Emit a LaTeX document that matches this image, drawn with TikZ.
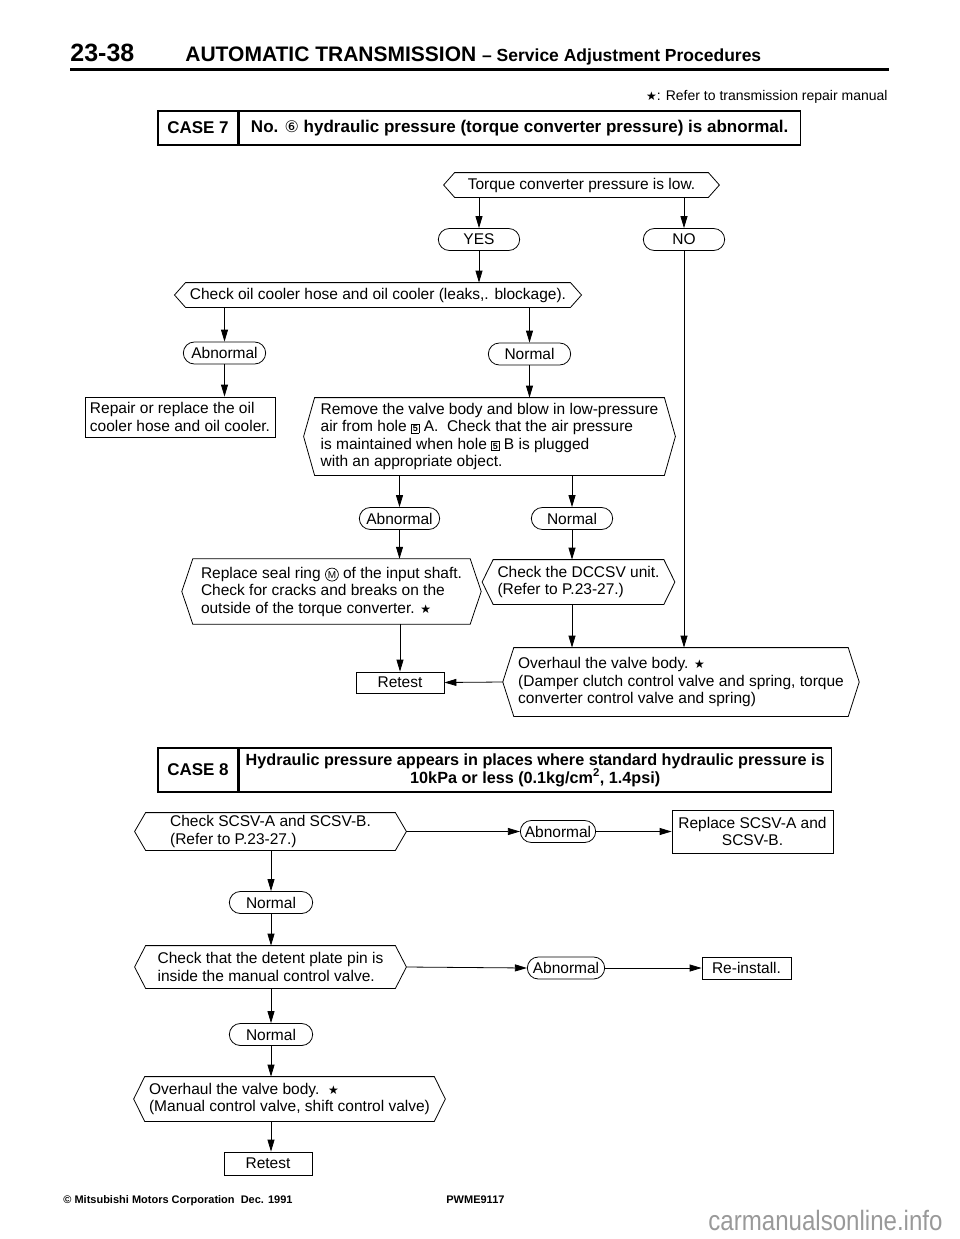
\documentclass[tikz,border=0pt]{standalone}
\usepackage{fontspec}
\setmainfont{Liberation Sans}
\newfontfamily\condfont[FakeStretch=0.86]{Liberation Sans}
\newfontfamily\symfont{DejaVu Sans}
\usetikzlibrary{shapes.misc,arrows.meta,calc}
\newcommand{\hexframe}[2][11]{\draw (#2.north west) -- (#2.north east) -- ([xshift=#1pt]#2.east) -- (#2.south east) -- (#2.south west) -- ([xshift=-#1pt]#2.west) -- cycle;}
\newcommand{\holebox}[1]{{\setlength{\fboxsep}{1pt}\setlength{\fboxrule}{0.7pt}\fbox{\fontsize{9}{9}\selectfont\bfseries #1}}}
\newcommand{\starmark}{{\symfont\fontsize{12}{12}\selectfont ★}}
\newcommand{\ringletter}[1]{\tikz[baseline=(rl.base)] \node[draw, circle, minimum size=13pt, inner sep=0pt, line width=0.7pt, font=\fontsize{10}{10}\selectfont] (rl) {#1};}

\begin{document}
\begin{tikzpicture}[x=1pt,y=-1pt,line width=0.8pt]
		\tikzset{
			every node/.style = {font=\fontsize{15.5}{17.5}\selectfont},
			hexnode/.style = {inner xsep=4pt, inner ysep=2pt, align=left},
			termnode/.style = {draw, rounded rectangle, minimum height=22pt, inner ysep=0pt},
			stepbox/.style = {draw, inner xsep=5pt, inner ysep=2pt, align=left},
			casecell/.style = {draw, line width=1.2pt, inner sep=2pt, font=\bfseries\fontsize{17}{18.5}\selectfont},
			flow/.style = {-{Triangle[length=12pt,width=7pt]}}
		}
		\useasboundingbox (0,0) rectangle (960,1239);
		\node[anchor=base west, inner sep=0pt, font=\bfseries\fontsize{25}{25}\selectfont] (pgnum) at (70,62) {23-38};
		\node[anchor=base west, inner sep=0pt, font=\bfseries\fontsize{21}{21}\selectfont] (title) at (185,62) {AUTOMATIC TRANSMISSION {\fontsize{17.5}{17.5}\selectfont – Service Adjustment Procedures}};
		\draw[line width=3.5pt] (70,69.5) -- (889,69.5);
		\node[anchor=base east, inner sep=0pt, font=\fontsize{14}{14}\selectfont] (refnote) at (888,100) {{\symfont\fontsize{12}{12}\selectfont ★}: Refer to transmission repair manual};

		\node[casecell, minimum width=80pt, minimum height=34pt] (case7) at (198,128) {CASE 7};
		\node[casecell, minimum width=561pt, minimum height=34pt, anchor=west] (case7txt) at (case7.east) {No. {\symfont\mdseries\fontsize{16}{16}\selectfont ⑥} hydraulic pressure (torque converter pressure) is abnormal.};

		\node[hexnode, minimum width=253pt, minimum height=24pt] (tq) at (581.5,185) {Torque converter pressure is low.};
		\hexframe{tq}
		\node[termnode, minimum width=88pt] (yes) at (479,239.5) {YES};
		\node[termnode, minimum width=88pt] (no) at (684,239.5) {NO};
		\node[hexnode, minimum width=382pt, minimum height=24pt] (oil) at (378,295) {Check oil cooler hose and oil cooler (leaks,. blockage).};
		\hexframe{oil}
		\node[termnode, minimum width=89pt] (ab1) at (224.5,353) {Abnormal};
		\node[termnode, minimum width=89pt] (nm1) at (529.5,354) {Normal};
		\node[stepbox, minimum width=190pt, minimum height=40pt] (rep) at (180,417) {Repair or replace the oil\\cooler hose and oil cooler.};
		\node[hexnode, minimum width=349pt, minimum height=77pt] (rem) at (489.5,436.5) {Remove the valve body and blow in low-pressure\\air from hole \holebox{5} A.\ \ Check that the air pressure\\is maintained when hole \holebox{5} B is plugged\\with an appropriate object.};
		\hexframe{rem}
		\node[termnode, minimum width=87pt] (ab2) at (399.5,518.5) {Abnormal};
		\node[termnode, minimum width=88pt] (nm2) at (572,518.5) {Normal};
		\node[hexnode, minimum width=277pt, minimum height=65pt] (seal) at (331.5,591.5) {Replace seal ring \ringletter{M} of the input shaft.\\Check for cracks and breaks on the\\outside of the torque converter. \starmark};
		\hexframe{seal}
		\node[hexnode, minimum width=169pt, minimum height=44pt] (dccsv) at (578.5,582) {Check the DCCSV unit.\\(Refer to P.23-27.)};
		\hexframe{dccsv}
		\node[stepbox, minimum width=88pt, minimum height=21pt, inner ysep=0pt] (retest) at (400,682.5) {Retest};
		\node[hexnode, minimum width=330pt, minimum height=68pt] (ovh) at (681,682) {Overhaul the valve body. \starmark\\(Damper clutch control valve and spring, torque\\converter control valve and spring)};
		\hexframe{ovh}

		\draw[flow] (tq.south -| yes) -- (yes.north);
		\draw[flow] (tq.south -| no) -- (no.north);
		\draw[flow] (yes.south) -- (yes |- oil.north);
		\draw[flow] (oil.south -| ab1) -- (ab1.north);
		\draw[flow] (oil.south -| nm1) -- (nm1.north);
		\draw[flow] (ab1.south) -- (ab1 |- rep.north);
		\draw[flow] (nm1.south) -- (nm1 |- rem.north);
		\draw[flow] (rem.south -| ab2) -- (ab2.north);
		\draw[flow] (rem.south -| nm2) -- (nm2.north);
		\draw[flow] (ab2.south) -- (ab2 |- seal.north);
		\draw[flow] (nm2.south) -- (nm2 |- dccsv.north);
		\draw[flow] (seal.south -| retest) -- (retest.north);
		\draw[flow] (dccsv.south -| nm2) -- (nm2 |- ovh.north);
		\draw[flow] (no.south) -- (no |- ovh.north);
		\draw[flow] ([xshift=-11pt]ovh.west) -- (retest.east);

		\node[casecell, minimum width=80pt, minimum height=44pt] (case8) at (198,770) {CASE 8};
		\node[casecell, minimum width=592pt, minimum height=44pt, anchor=west, align=center, font=\bfseries\fontsize{16.2}{18}\selectfont] (case8txt) at (case8.east) {Hydraulic pressure appears in places where standard hydraulic pressure is\\10kPa or less (0.1kg/cm\textsuperscript{2}, 1.4psi)};

		\node[hexnode, minimum width=249pt, minimum height=37pt] (scsv) at (270.5,831.5) {Check SCSV-A and SCSV-B.\\(Refer to P.23-27.)};
		\hexframe{scsv}
		\node[termnode, minimum width=82pt] (ab3) at (558,831.5) {Abnormal};
		\node[stepbox, align=center, minimum width=161pt, minimum height=43pt] (rscsv) at (752.5,831.5) {Replace SCSV-A and\\SCSV-B.};
		\node[termnode, minimum width=90pt] (nm3) at (271,902.5) {Normal};
		\node[hexnode, minimum width=249pt, minimum height=42pt] (det) at (270.5,967) {Check that the detent plate pin is\\inside the manual control valve.};
		\hexframe{det}
		\node[termnode, minimum width=84pt] (ab4) at (566,968) {Abnormal};
		\node[stepbox, minimum width=89pt, minimum height=22pt, inner ysep=0pt] (reinst) at (746.5,968) {Re-install.};
		\node[termnode, minimum width=90pt] (nm4) at (271,1034.5) {Normal};
		\node[hexnode, minimum width=287pt, minimum height=44pt] (ovhb) at (289.5,1099) {Overhaul the valve body.\ \ \starmark\\(Manual control valve, shift control valve)};
		\hexframe{ovhb}
		\node[stepbox, minimum width=88pt, minimum height=23pt, inner ysep=0pt] (retestb) at (268,1163.5) {Retest};

		\draw[flow] ([xshift=11pt]scsv.east) -- (ab3.west);
		\draw[flow] (ab3.east) -- (rscsv.west);
		\draw[flow] (scsv.south -| nm3) -- (nm3.north);
		\draw[flow] (nm3.south) -- (nm3 |- det.north);
		\draw[flow] ([xshift=11pt]det.east) -- (ab4.west);
		\draw[flow] (ab4.east) -- (reinst.west);
		\draw[flow] (det.south -| nm4) -- (nm4.north);
		\draw[flow] (nm4.south) -- (nm4 |- ovhb.north);
		\draw[flow] (ovhb.south -| nm4) -- (nm4 |- retestb.north);

		\node[anchor=base west, inner sep=0pt, font=\bfseries\fontsize{11}{11}\selectfont] (copy) at (63,1203) {© Mitsubishi Motors Corporation\ \ Dec. 1991};
		\node[anchor=base west, inner sep=0pt, font=\bfseries\fontsize{11}{11}\selectfont] (code) at (446,1203) {PWME9117};
		\node[anchor=base east, inner sep=0pt, text=black!40, font=\condfont\fontsize{28}{28}\selectfont] (site) at (943,1230) {carmanualsonline.info};
	\end{tikzpicture}
\end{document}
